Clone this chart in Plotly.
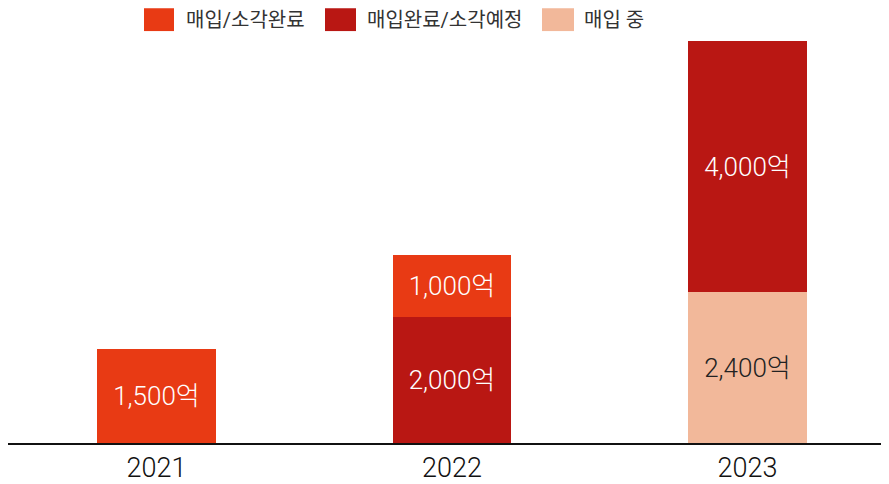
import plotly.graph_objects as go

years = ["2021", "2022", "2023"]
done = [1500, 1000, None]          # 매입/소각완료
planned = [None, 2000, 4000]       # 매입완료/소각예정
buying = [None, None, 2400]        # 매입 중
names = ["매입/소각완료", "매입완료/소각예정", "매입 중"]
colors = ["#E83A14", "#B91713", "#F2B89A"]
text_colors = ["white", "white", "#222222"]

FONT = "Roboto, 'Noto Sans CJK KR', sans-serif"

fig = go.Figure()
for vals, name, col, tcol in [(buying, names[2], colors[2], text_colors[2]),
                              (planned, names[1], colors[1], text_colors[1]),
                              (done, names[0], colors[0], text_colors[0])]:
    fig.add_trace(go.Bar(
        x=years, y=vals, name=name, marker=dict(color=col, line=dict(width=0)),
        width=0.4, texttemplate="%{y:,}억", textposition="inside",
        insidetextanchor="middle", textangle=0,
        textfont=dict(color=tcol, size=26, family=FONT, weight=300),
        showlegend=False, hoverinfo="skip"))

W, H = 881, 476
OFF = 8  # page body margin
L, R, T, B = 0, 0, 33, 38
pw, ph = W - L - R, H - T - B

def px(x):
    return (x - OFF - L) / pw

def py(y):
    return (H - B - (y - OFF)) / ph

legend_items = [(144, 174, 186), (325, 356, 367), (542, 574, 584)]
shapes = []
annotations = []
for (x0, x1, tx), name, col in zip(legend_items, names, colors):
    shapes.append(dict(type="rect", xref="paper", yref="paper",
                       x0=px(x0), x1=px(x1), y0=py(31), y1=py(8),
                       fillcolor=col, line=dict(width=0)))
    annotations.append(dict(text=name, xref="paper", yref="paper",
                            x=px(tx - 2), y=py(19.5), xanchor="left", yanchor="middle",
                            showarrow=False,
                            font=dict(size=20, color="#333333", family=FONT)))

fig.update_layout(
    width=W, height=H, barmode="stack",
    margin=dict(l=L, r=R, t=T, b=B, pad=0),
    paper_bgcolor="white", plot_bgcolor="white",
    shapes=shapes, annotations=annotations,
    uniformtext=dict(minsize=26, mode="show"),
    xaxis=dict(type="category", range=[-0.5025, 2.4789], showline=True,
               linecolor="#111111", linewidth=2, showgrid=False, ticks="",
               tickfont=dict(size=27, color="#111111", family=FONT, weight=300),
               fixedrange=True),
    yaxis=dict(range=[0, 6400], visible=False, showgrid=False, fixedrange=True),
    font=dict(family=FONT),
)

fig.write_html("out.html")
